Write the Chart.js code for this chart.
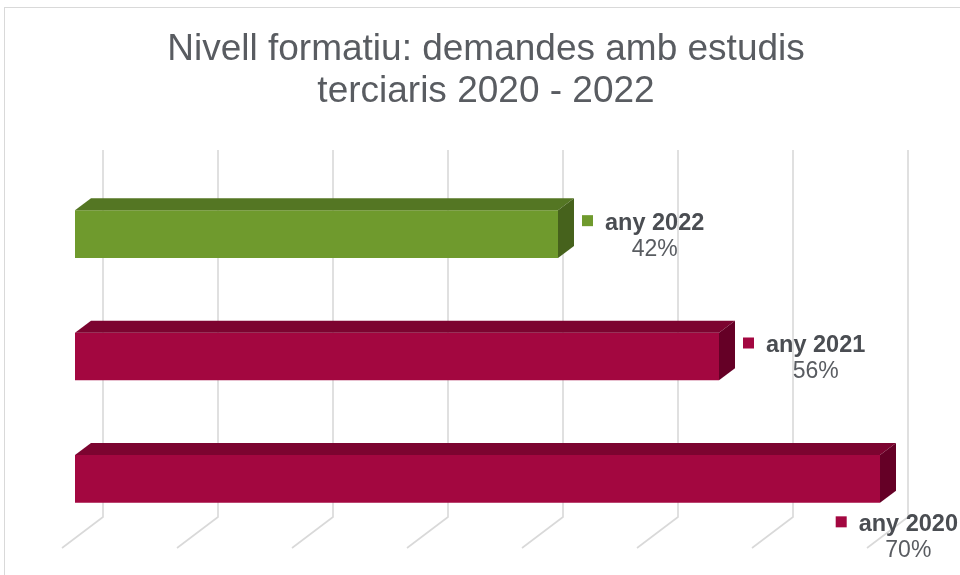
<!DOCTYPE html>
<html>
<head>
<meta charset="utf-8">
<script src="https://cdn.jsdelivr.net/npm/chart.js@4"></script>
<style>
  html, body { margin: 0; padding: 0; background: #ffffff; }
  canvas { display: block; }
</style>
</head>
<body>
<canvas id="c" width="960" height="575"></canvas>
<script>
// ---- data ----
const categories = ['any 2022', 'any 2021', 'any 2020'];
const values = [42, 56, 70];
const titleLines = ['Nivell formatiu: demandes amb estudis', 'terciaris 2020 - 2022'];
const axisMin = 0;
const axisMax = 70;
const axisStep = 10;

// ---- styles ----
const frontColors = ['#6F9A2D', '#A30740', '#A30740'];
const topColors = ['#547623', '#7C0430', '#7C0430'];
const sideColors = ['#46621C', '#650026', '#650026'];
const DX = 16, DY = 12;          // bar depth
const BACK = 28;                 // back wall offset from bar front plane
const FLOOR_FRONT = 13;          // floor front edge offset (left) from bar front
const GRID_TOP = 150, FLOOR_BACK = 517, FLOOR_FRONT_Y = 548;
const TITLE_X = 486, TITLE_Y = 50, TITLE_LH = 42;

const decor = {
  id: 'decor',
  beforeDraw(chart) {
    const ctx = chart.ctx;
    ctx.save();
    ctx.fillStyle = '#ffffff';
    ctx.fillRect(0, 0, chart.width, chart.height);
    ctx.strokeStyle = '#d9d9d9';
    ctx.lineWidth = 1;
    ctx.strokeRect(4.5, 7.5, chart.width + 50, chart.height + 50);
    // title
    ctx.fillStyle = '#595c61';
    ctx.font = '37px "Liberation Sans", Arial, sans-serif';
    ctx.textAlign = 'center';
    ctx.textBaseline = 'middle';
    titleLines.forEach((t, k) => ctx.fillText(t, TITLE_X, TITLE_Y + k * TITLE_LH));
    ctx.restore();
  },
  beforeDatasetsDraw(chart) {
    const ctx = chart.ctx;
    const xs = chart.scales.x;
    ctx.save();
    ctx.strokeStyle = '#d9d9d9';
    ctx.lineWidth = 1.6;
    for (let v = axisMin; v <= axisMax; v += axisStep) {
      const px = xs.getPixelForValue(v);
      ctx.beginPath();
      ctx.moveTo(px + BACK, GRID_TOP);
      ctx.lineTo(px + BACK, FLOOR_BACK);
      ctx.lineTo(px - FLOOR_FRONT, FLOOR_FRONT_Y);
      ctx.stroke();
    }
    ctx.restore();
  },
  afterDatasetsDraw(chart) {
    const ctx = chart.ctx;
    const meta = chart.getDatasetMeta(0);
    ctx.save();
    meta.data.forEach((bar, i) => {
      const p = bar.getProps(['x', 'y', 'base', 'height'], true);
      const top = p.y - p.height / 2;
      const bottom = p.y + p.height / 2;
      // top face
      ctx.fillStyle = topColors[i];
      ctx.beginPath();
      ctx.moveTo(p.base, top);
      ctx.lineTo(p.base + DX, top - DY);
      ctx.lineTo(p.x + DX, top - DY);
      ctx.lineTo(p.x, top);
      ctx.closePath();
      ctx.fill();
      // side face
      ctx.fillStyle = sideColors[i];
      ctx.beginPath();
      ctx.moveTo(p.x, top);
      ctx.lineTo(p.x + DX, top - DY);
      ctx.lineTo(p.x + DX, bottom - DY);
      ctx.lineTo(p.x, bottom);
      ctx.closePath();
      ctx.fill();

      // labels
      const name = categories[i];
      const pct = values[i] + '%';
      ctx.font = 'bold 23.5px "Liberation Sans", Arial, sans-serif';
      const nw = ctx.measureText(name).width;
      let nameLeft = p.x + 47;
      let nameY = p.y - 11;
      if (nameLeft + nw > chart.width - 2) {
        nameLeft = chart.width - 2 - nw;
        nameY = p.y + 45.5;
      }
      ctx.fillStyle = frontColors[i];
      ctx.fillRect(nameLeft - 23, nameY - 8, 11, 11);
      ctx.fillStyle = '#4a4d52';
      ctx.textBaseline = 'middle';
      ctx.textAlign = 'left';
      ctx.fillText(name, nameLeft, nameY);
      ctx.font = '23px "Liberation Sans", Arial, sans-serif';
      ctx.fillStyle = '#595c61';
      ctx.textAlign = 'center';
      ctx.fillText(pct, nameLeft + nw / 2, nameY + 26.5);
    });
    ctx.restore();
  }
};

new Chart(document.getElementById('c'), {
  type: 'bar',
  data: {
    labels: categories,
    datasets: [{
      data: values,
      backgroundColor: frontColors,
      borderWidth: 0,
      barPercentage: 0.39,
      categoryPercentage: 1
    }]
  },
  options: {
    indexAxis: 'y',
    responsive: false,
    animation: false,
    layout: { padding: { left: 75, right: 80, top: 173, bottom: 35 } },
    scales: {
      x: { display: false, min: axisMin, max: axisMax, ticks: { stepSize: axisStep } },
      y: { display: false }
    },
    plugins: {
      legend: { display: false },
      tooltip: { enabled: false },
      title: { display: false }
    }
  },
  plugins: [decor]
});
</script>
</body>
</html>
